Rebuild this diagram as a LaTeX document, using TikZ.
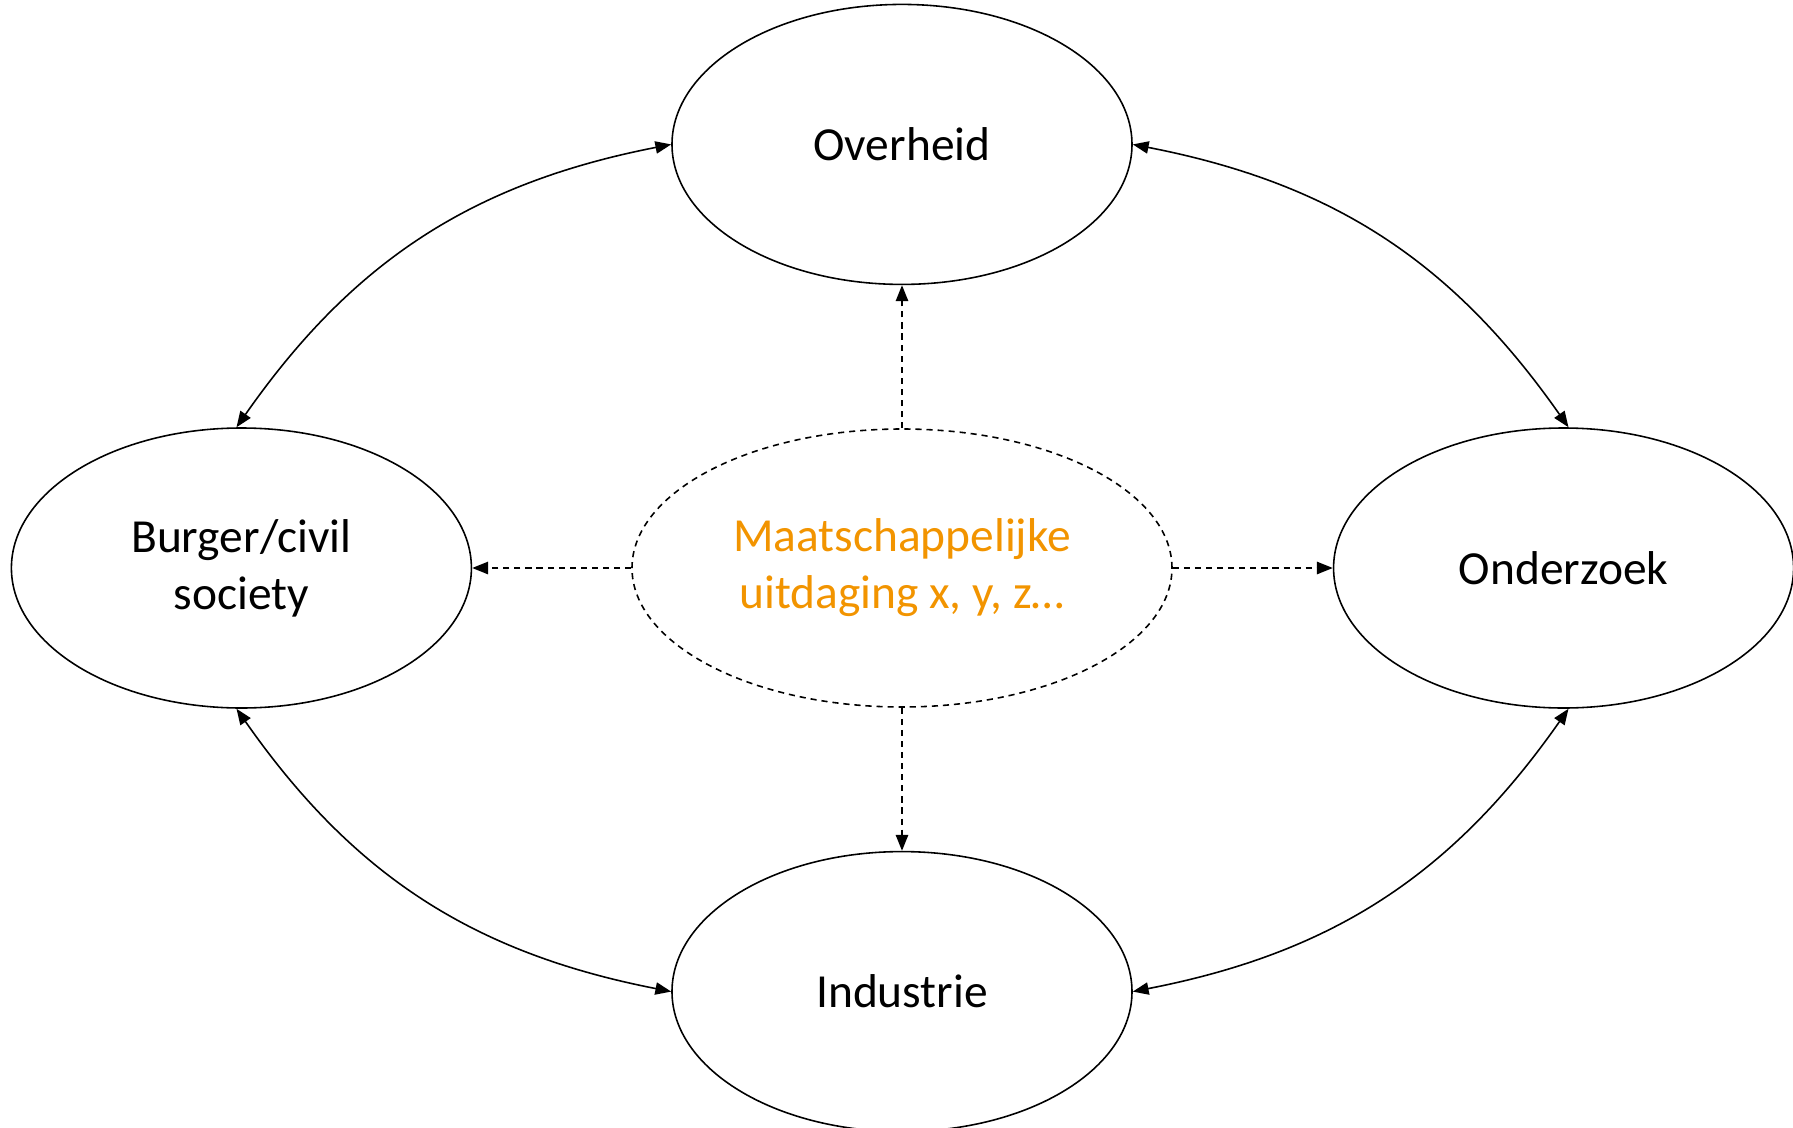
\documentclass[tikz,border=0pt]{standalone}
\usepackage{fontspec}
\setmainfont{Carlito}
\usetikzlibrary{shapes.geometric, arrows.meta, positioning}
\definecolor{uitdaging}{RGB}{242,148,0}

\begin{document}
\begin{tikzpicture}[font=\fontsize{27}{32.4}\selectfont, line width=0.9pt,
    >={Triangle[length=9pt,width=7pt]},
    actor/.style={draw, ellipse, minimum width=9.2cm, minimum height=5.6cm, align=center},
    stippel/.style={dash pattern=on 3.5pt off 2.8pt}]

\useasboundingbox (-18.04,-11.18) rectangle (17.82,11.36);

% Challenge in the middle
\node[actor, stippel,
    minimum width=10.8cm,
    minimum height=5.56cm,
    text=uitdaging
] (challenge) {Maatschappelijke\\uitdaging x, y, z\dots};

% The four actors
\node[actor, above=2.86cm of challenge] (overheid) {Overheid};
\node[actor, below=2.86cm of challenge] (industrie) {Industrie};
\node[actor, left=3.18cm of challenge] (burger) {Burger/civil\\society};
\node[actor, right=3.2cm of challenge] (onderzoek) {Onderzoek};

% Arrows
\draw[<->] (overheid.west) to[bend right=22] (burger.92);
\draw[<->] (overheid.east) to[bend left=22] (onderzoek.88);
\draw[<->] (industrie.west) to[bend left=22] (burger.268);
\draw[<->] (industrie.east) to[bend right=22] (onderzoek.272);

\draw[->, stippel] (challenge) edge (overheid)
                   (challenge) edge (industrie)
                   (challenge) edge (burger)
                   (challenge) edge (onderzoek);

\end{tikzpicture}
\end{document}
